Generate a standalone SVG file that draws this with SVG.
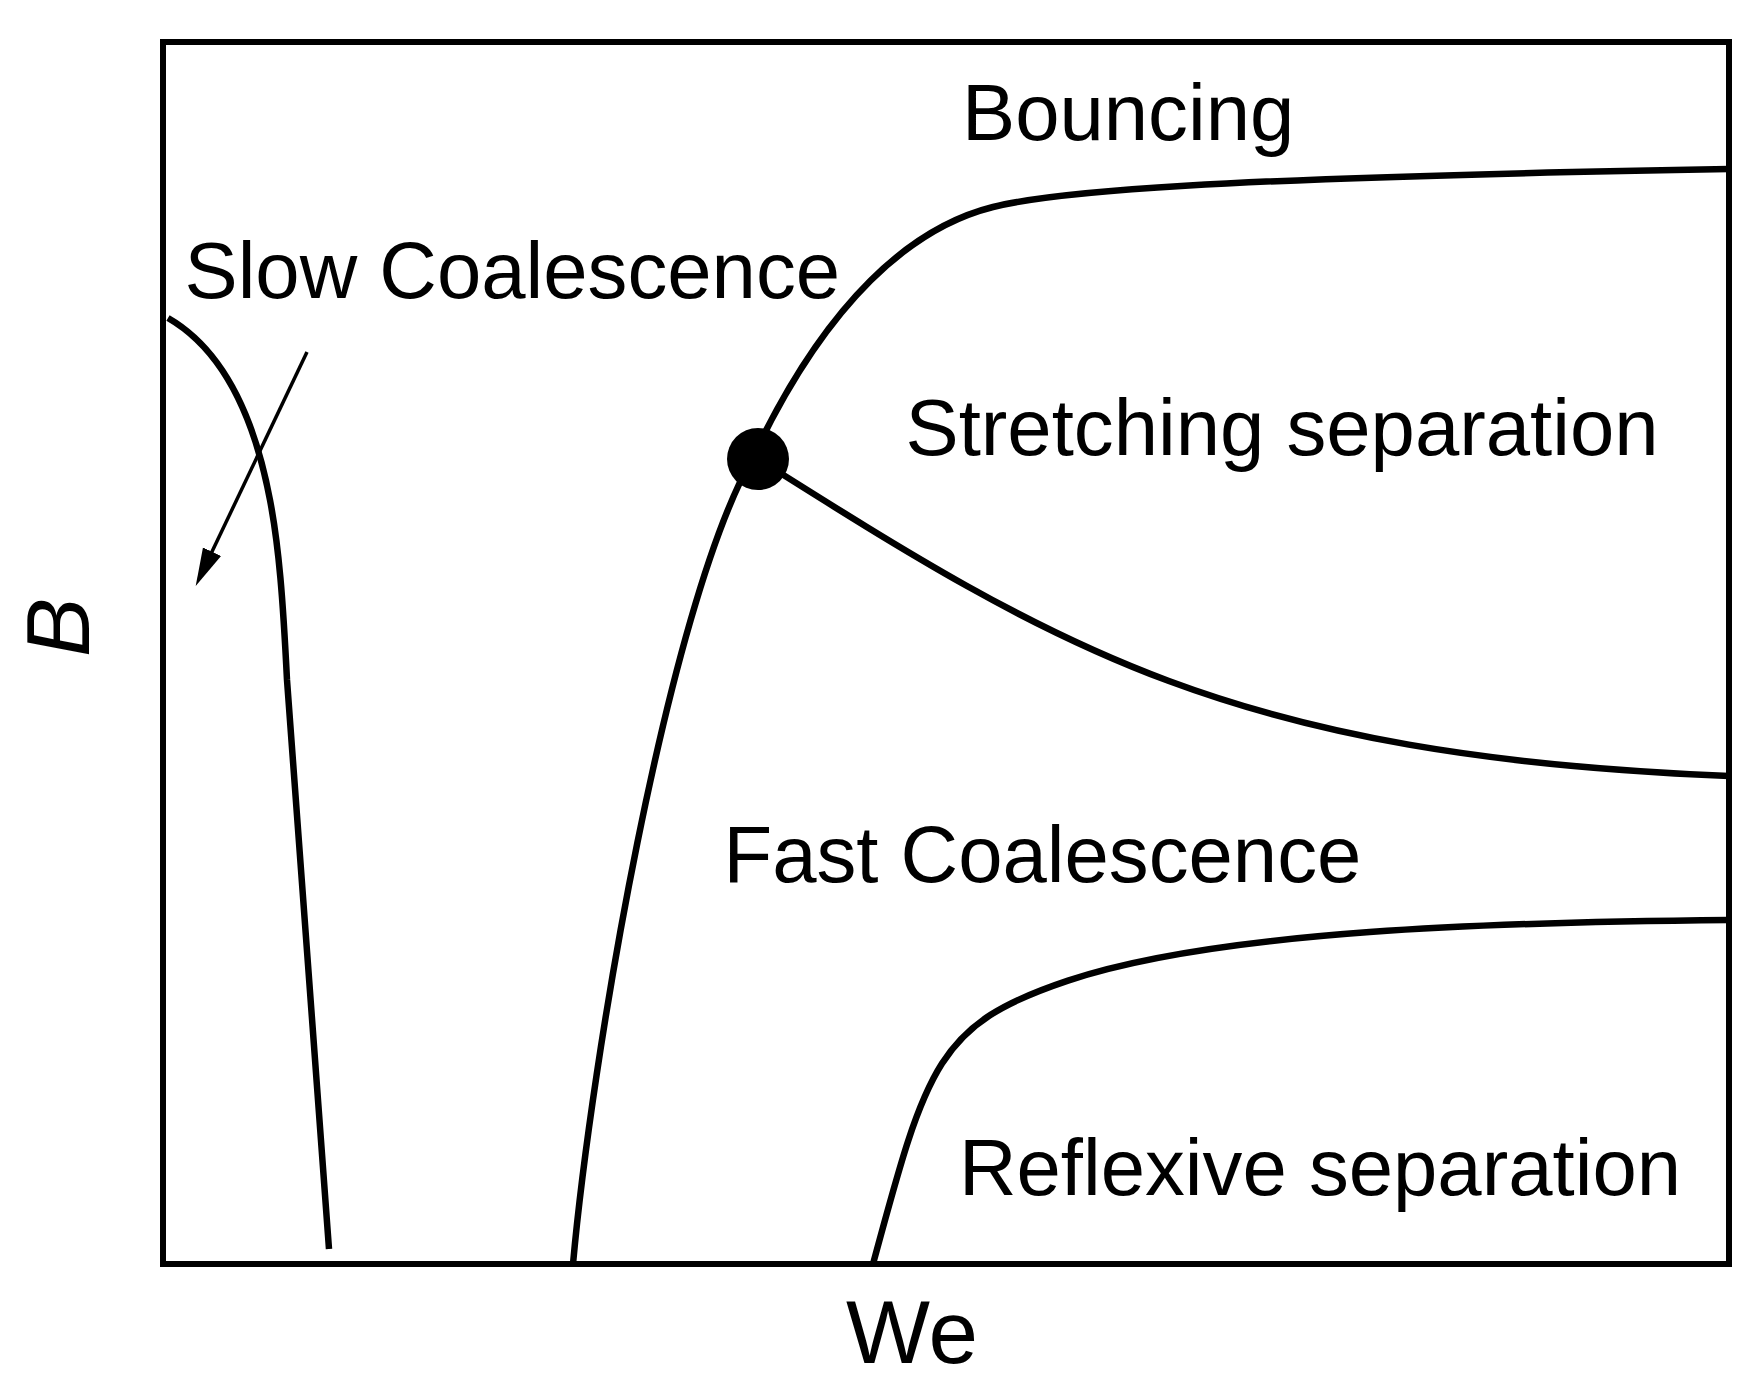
<svg xmlns="http://www.w3.org/2000/svg" width="1764" height="1391" viewBox="0 0 1764 1391">
  <style>
    .lbl { font-family: "Liberation Sans", Arial, sans-serif; font-size: 79.7px; fill: #000; }
    .ax { font-family: "Liberation Sans", Arial, sans-serif; font-size: 89px; fill: #000; }
    .curve { fill: none; stroke: #000; stroke-width: 6.5; stroke-linecap: butt; stroke-linejoin: round; }
    .frame { fill: none; stroke: #000; stroke-width: 6; }
  </style>
  <defs>
    <marker id="ah" markerUnits="userSpaceOnUse" markerWidth="40" markerHeight="24" viewBox="0 -12 40 24" refX="1" refY="0" orient="auto">
      <path d="M0,-10 L38,0 L0,10 z" fill="#000"/>
    </marker>
  </defs>
  <rect width="1764" height="1391" fill="#fff"/>

  <g id="frame">
    <rect class="frame" x="163" y="42" width="1566" height="1222"/>
  </g>

  <g id="connectors">
    <path id="slow-boundary" class="curve" d="M168,318 C220,348 253,410 270,500 C279,547 283,600 287,680 L329,1249"/>
    <path id="bouncing-boundary" class="curve" d="M573,1264 C591,1064 667,609 752,459 C827,299 913,227 993,207 C1053,192 1200,178 1729,169"/>
    <path id="stretching-boundary" class="curve" d="M758,459 C1058,648 1229,756 1729,776"/>
    <path id="reflexive-boundary" class="curve" d="M873,1264 C927,1064 938,1024 1068,980.6 C1220,930 1500,922 1729,920"/>
    <path id="arrow" d="M307,352 L211.6,552.6" fill="none" stroke="#000" stroke-width="3.5" marker-end="url(#ah)"/>
  </g>

  <g id="triple-point">
    <circle cx="758" cy="459" r="31" fill="#000"/>
  </g>

  <g id="labels">
    <text class="lbl" x="962" y="139.5">Bouncing</text>
    <text class="lbl" x="184.5" y="298">Slow Coalescence</text>
    <text class="lbl" x="905.5" y="455">Stretching separation</text>
    <text class="lbl" x="723.5" y="881.5">Fast Coalescence</text>
    <text class="lbl" x="959" y="1195">Reflexive separation</text>
    <text class="ax" x="846" y="1363">We</text>
    <text class="ax" font-style="italic" font-size="82" transform="translate(89,657) rotate(-90)">B</text>
  </g>
</svg>
